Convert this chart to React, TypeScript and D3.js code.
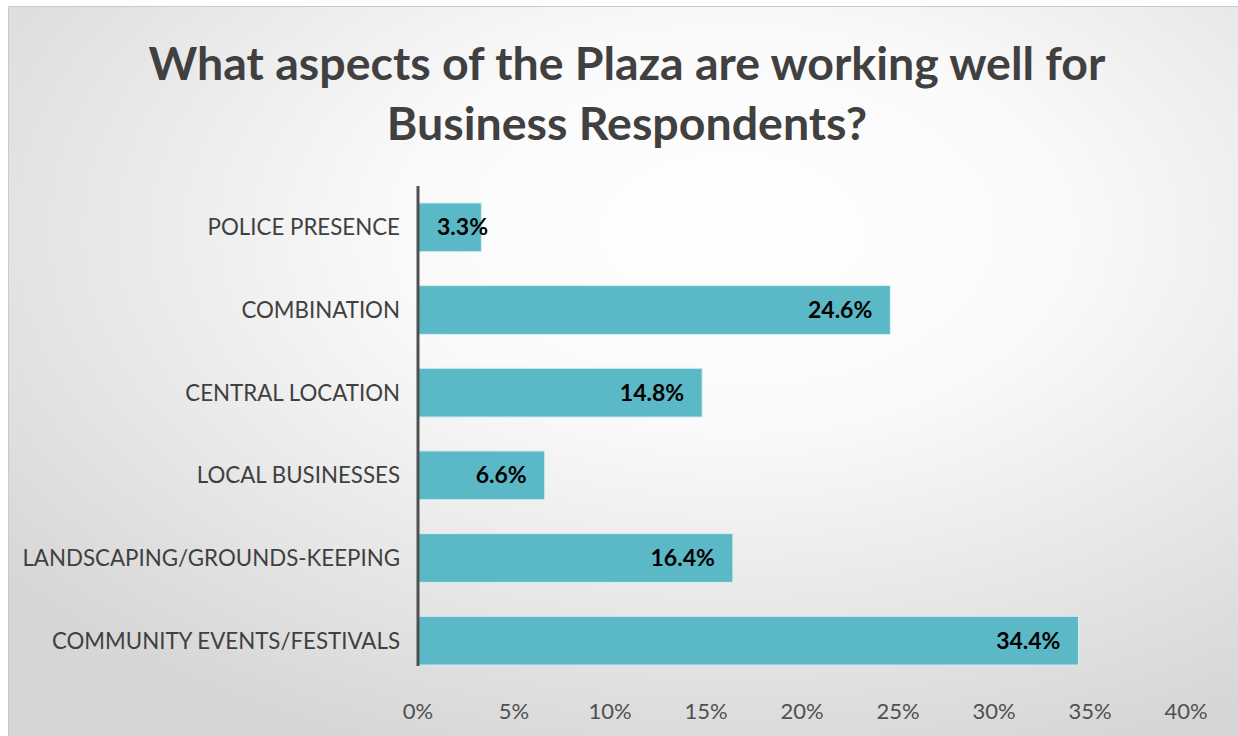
import React from "react";
import * as d3 from "d3";

const categories = [
  "POLICE PRESENCE",
  "COMBINATION",
  "CENTRAL LOCATION",
  "LOCAL BUSINESSES",
  "LANDSCAPING/GROUNDS-KEEPING",
  "COMMUNITY EVENTS/FESTIVALS",
];
const values = [3.3, 24.6, 14.8, 6.6, 16.4, 34.4];
const ticks = [0, 5, 10, 15, 20, 25, 30, 35, 40];
const titleLines = ["What aspects of the Plaza are working well for", "Business Respondents?"];

const W = 1238;
const H = 736;
const FONT = "Lato, 'Open Sans', sans-serif";

export default function App() {
  const x = d3.scaleLinear().domain([0, 40]).range([418, 1186]);
  const y = d3.scaleBand<string>().domain(categories).range([186, 682]).paddingInner(0.41).paddingOuter(0.205);

  return (
    <svg
      width={W}
      height={H}
      style={{ position: "absolute", left: 0, top: 0 }}
      fontFamily={FONT}
    >
      <defs>
        <radialGradient id="bg" cx="0.58" cy="0.3" r="0.75">
          <stop offset="0" stopColor="#ffffff" />
          <stop offset="0.35" stopColor="#fafafa" />
          <stop offset="1" stopColor="#d6d6d6" />
        </radialGradient>
      </defs>
      <rect x={0} y={0} width={W} height={H} fill="#ffffff" />
      <rect x={8.5} y={6.5} width={W + 10} height={H + 10} fill="url(#bg)" stroke="#c9c9c9" strokeWidth={1} />
      {titleLines.map((t, i) => (
        <text
          key={i}
          x={627}
          y={80 + i * 60}
          textAnchor="middle"
          fontSize={46.5}
          fontWeight="bold"
          fill="#404040"
        >
          {t}
        </text>
      ))}
      {categories.map((c, i) => {
        const v = values[i];
        const y0 = y(c)!;
        const bw = y.bandwidth();
        const end = x(v);
        const small = v < 5;
        return (
          <g key={c}>
            <rect x={x(0)} y={y0} width={end - x(0)} height={bw} fill="#5bb8c6" stroke="#d8eef2" strokeWidth={1} />
            <text
              x={small ? x(0) + 19 : end - 18}
              y={y0 + bw / 2 + 8}
              textAnchor={small ? "start" : "end"}
              fontSize={23}
              fontWeight="bold"
              fill="#000"
            >
              {v.toFixed(1)}%
            </text>
            <text x={400} y={y0 + bw / 2 + 8} textAnchor="end" fontSize={22.3} fill="#404040">
              {c}
            </text>
          </g>
        );
      })}
      <line x1={x(0)} x2={x(0)} y1={186} y2={666} stroke="#505050" strokeWidth={3} />
      {ticks.map((t) => (
        <text key={t} x={x(t)} y={719} textAnchor="middle" fontSize={22} fill="#505050">
          {t}%
        </text>
      ))}
    </svg>
  );
}
